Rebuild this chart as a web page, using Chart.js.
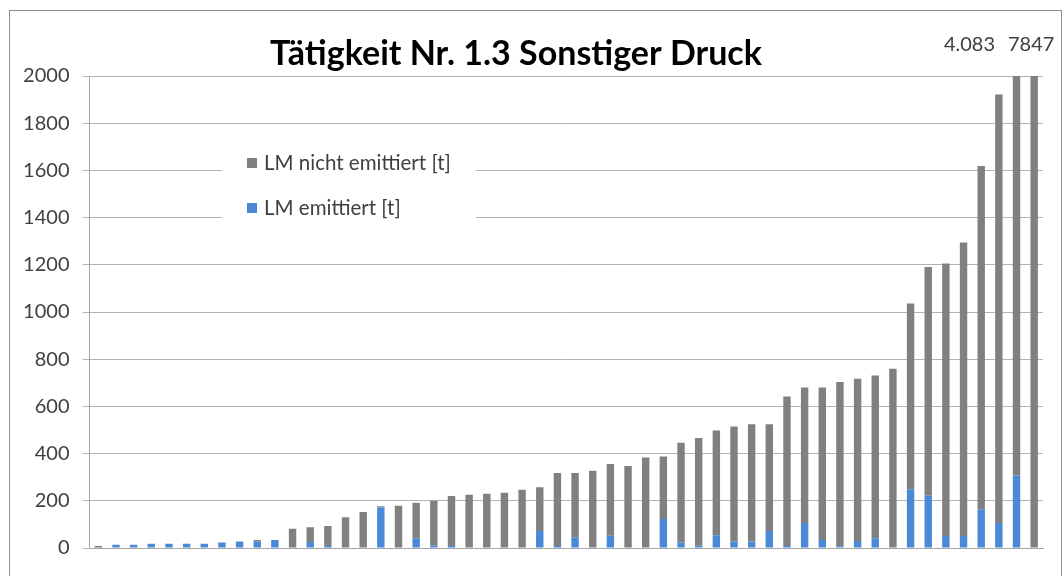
<!DOCTYPE html>
<html>
<head>
<meta charset="utf-8">
<script src="https://cdn.jsdelivr.net/npm/chart.js@4/dist/chart.umd.min.js"></script>
<style>
  body { margin: 0; background: #fff; }
  canvas { display: block; }
</style>
</head>
<body>
<canvas id="grafik" width="1064" height="576"></canvas>
<script>
// Werte (t) je Anlage, von links nach rechts
const kategorien = Array.from({ length: 54 }, (_, i) => String(i + 1));
const lmEmittiert = [0, 14, 14, 18, 18, 18, 18, 23, 28, 28, 34, 0, 25, 8, 0, 0, 172, 0,
    41, 11, 8, 0, 0, 0, 0, 72, 8, 45, 0, 52, 0, 0, 123, 23, 10, 54,
    28, 28, 72, 8, 106, 34, 7, 30, 41, 0, 249, 221, 51, 51, 164, 106, 307, 0];
const lmNichtEmittiert = [8, 0, 0, 0, 0, 0, 0, 0, 0, 6, 0, 82, 63, 85, 130, 153, 5, 179,
    151, 189, 212, 226, 230, 234, 247, 185, 310, 273, 327, 304, 347, 384, 265, 423, 456, 444,
    487, 496, 452, 634, 574, 646, 696, 687, 690, 760, 787, 970, 1154, 1244, 1455, 1816, 3776, 7847];
const yTicks = [0, 200, 400, 600, 800, 1000, 1200, 1400, 1600, 1800, 2000];
// Beschriftung der abgeschnittenen Balken
const ueberLabels = ['4.083', '7847'];
const ueberIndex = [52, 53];

const titel = 'Tätigkeit Nr. 1.3 Sonstiger Druck';
const grau = '#808080';
const blau = '#4a88d8';

const rahmenPlugin = {
    id: 'rahmen',
    beforeDraw(chart) {
        const ctx = chart.ctx;
        ctx.save();
        ctx.fillStyle = '#fff';
        ctx.fillRect(0, 0, chart.width, chart.height);
        ctx.strokeStyle = '#8c8c8c';
        ctx.lineWidth = 1;
        ctx.strokeRect(9.5, 10.5, 1052, 580);
        ctx.restore();
    },
    afterDraw(chart) {
        const ctx = chart.ctx;
        ctx.save();
        // Titel
        ctx.fillStyle = '#000';
        ctx.font = 'bold 34px Lato';
        ctx.textAlign = 'center';
        ctx.textBaseline = 'alphabetic';
        ctx.fillText(titel, 516, 65);

        // Legende im Diagramm
        ctx.fillStyle = '#fff';
        ctx.fillRect(222, 140, 254, 88);
        const reihen = [chart.data.datasets[1], chart.data.datasets[0]];
        ctx.font = '20.5px Lato';
        ctx.textAlign = 'left';
        ctx.textBaseline = 'middle';
        reihen.forEach((ds, i) => {
            const y = 163 + i * 45;
            ctx.fillStyle = ds.backgroundColor;
            ctx.fillRect(247, y - 5, 10, 10);
            ctx.fillStyle = '#404040';
            ctx.fillText(ds.label, 264, y);
        });

        // Werte über den abgeschnittenen Balken
        const meta = chart.getDatasetMeta(1);
        ctx.font = '20px Lato';
        ctx.textAlign = 'center';
        ctx.fillStyle = '#404040';
        const versatz = [-47, -3];
        ueberIndex.forEach((idx, i) => {
            const x = meta.data[idx].x + versatz[i];
            ctx.fillText(ueberLabels[i], x, 45);
        });
        ctx.restore();
    }
};

new Chart(document.getElementById('grafik'), {
    type: 'bar',
    data: {
        labels: kategorien,
        datasets: [
            { label: 'LM emittiert [t]', data: lmEmittiert, backgroundColor: blau,
              barPercentage: 0.42, categoryPercentage: 1.0 },
            { label: 'LM nicht emittiert [t]', data: lmNichtEmittiert, backgroundColor: grau,
              barPercentage: 0.42, categoryPercentage: 1.0 }
        ]
    },
    options: {
        responsive: false,
        animation: false,
        devicePixelRatio: 1,
        layout: { padding: { left: 0, right: 21, top: 76, bottom: 20 } },
        plugins: {
            legend: { display: false },
            title: { display: false },
            tooltip: { enabled: false }
        },
        scales: {
            x: {
                stacked: true,
                grid: { display: false },
                ticks: { display: false },
                border: { color: '#a6a6a6' }
            },
            y: {
                stacked: true,
                min: 0,
                max: 2000,
                afterFit(scale) { scale.width = 89.5; },
                afterBuildTicks(scale) { scale.ticks = yTicks.map(v => ({ value: v })); },
                grid: { color: '#b3b3b3', tickLength: 7 },
                border: { color: '#a6a6a6' },
                ticks: {
                    color: '#404040',
                    font: { family: 'Lato', size: 20 },
                    padding: 13,
                    callback: v => String(v)
                }
            }
        }
    },
    plugins: [rahmenPlugin]
});
</script>
</body>
</html>
